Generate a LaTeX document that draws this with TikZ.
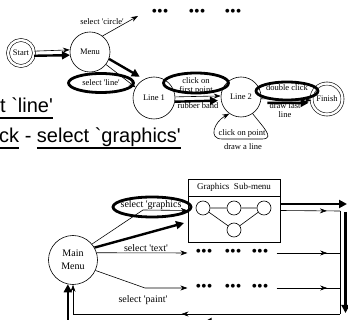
\documentclass[tikz,border=0pt]{standalone}
\usepackage{fontspec}
\setmainfont{Liberation Serif}[Ligatures=TeXOff]
\newfontfamily\slidefont{Liberation Sans}[Ligatures=TeXOff]
\usetikzlibrary{arrows.meta,decorations.markings,positioning,shapes.geometric}

% thick underline for the slide text
\newcommand{\slideul}[1]{\sbox0{#1}\rlap{\rule[-6.5pt]{\wd0}{2.8pt}}\usebox0}

\tikzset{%
	state/.style     = {draw, circle, line width=0.6pt, inner sep=0pt, align=center, font=\fontsize{8.5}{10}\selectfont},
	accept/.style    = {state, double, double distance=2.4pt},
	hilite/.style    = {draw, ellipse, line width=2.8pt, inner sep=0pt, font=\fontsize{8.5}{10}\selectfont},
	lbl/.style       = {inner sep=0pt, align=center, font=\fontsize{8.5}{9.5}\selectfont},
	menulbl/.style   = {inner sep=0pt, align=center, font=\fontsize{10}{12}\selectfont},
	dotrow/.style    = {inner sep=0pt, font=\fontsize{16}{16}\selectfont},
	slide/.style     = {inner sep=0pt, anchor=base west, font=\slidefont\fontsize{20}{24}\selectfont},
	arrow/.style     = {line width=0.6pt, -{Stealth[length=7pt,width=5pt]}},
	boldarrow/.style = {line width=2.4pt, -{Triangle[length=8pt,width=8pt]}},
	midarrow/.style  = {postaction={decorate, decoration={markings, mark=at position #1 with {\arrow{Stealth[length=7pt,width=5pt]}}}}},
	midbold/.style   = {postaction={decorate, decoration={markings, mark=at position #1 with {\arrow{Triangle[length=8pt,width=8pt]}}}}},
}

\begin{document}
\begin{tikzpicture}[x=1pt, y=-1pt]
	\useasboundingbox (0,0) rectangle (348,320);
	\clip (0,0) rectangle (348,320);

	% line tool dialogue
	\node[accept, minimum size=26pt] (start)  at (21,53)  {Start};
	\node[state,  minimum size=40pt] (menu)   at (90,52)  {Menu};
	\node[state,  minimum size=42pt] (line1)  at (154,98) {Line 1};
	\node[state,  minimum size=40pt] (line2)  at (241,97) {Line 2};
	\node[accept, minimum size=31pt] (finish) at (327,99) {Finish};

	\draw[arrow]     (start.8)   -- (menu.174);
	\draw[boldarrow] (start.-12) -- (menu.189);

	\coordinate (more) at (138,16);
	\draw[arrow] (menu.52) -- (more);
	\node[lbl] (selcircle) at (102,22) {select 'circle'};
	\node[dotrow] (top1) at (160,13) {•••};
	\node[dotrow] (top2) at (197,13) {•••};
	\node[dotrow] (top3) at (233,13) {•••};

	\draw[arrow] (menu.-38) -- (line1.150);
	\draw[boldarrow, shorten >=5pt] (menu.-20) -- (line1.118);
	\node[hilite, minimum width=65pt, minimum height=19pt] (selline) at (101,83) {select 'line'};

	\draw[arrow] (line1.3) -- (line2.177);
	\draw[boldarrow, shorten >=3pt] (line1.-10) -- (line2.190);
	\node[lbl] (clicktxt) at (196,86) {click on\\first point};
	\node[hilite, minimum width=65pt, minimum height=20pt] (clickring) at (196,83) {};
	\node[lbl] (rubber) at (198,106) {rubber band};

	\draw[arrow] (line2.-5) -- (finish.185);
	\draw[boldarrow, shorten <=7pt, shorten >=3pt] (line2.-17) -- (finish.194);
	\node[hilite, minimum width=62pt, minimum height=18pt] (dblring) at (287,91) {};
	\node[lbl] (dbltxt) at (287,88) {double click};
	\node[lbl] (lastline) at (285,110) {draw last\\line};

	% self loop on Line 2
	\draw[arrow] (line2.-55) .. controls (262,126) and (276,139) .. (262,139) -- (222,139)
		.. controls (208,139) and (214,122) .. (line2.-125);
	\node[lbl] (clickpt) at (242,133) {click on point};
	\node[lbl] (drawseg) at (243,147) {draw a line};

	% slide text
	\node[slide] (said) at (0,113)  {\slideul{t `line'}};
	\node[slide] (todo) at (-1,143) {\slideul{ck} - \slideul{select `graphics'}};

	% main menu and graphics sub-menu
	\node[state, minimum size=49pt, font=\fontsize{10}{13}\selectfont] (main) at (73,260) {Main\\Menu};
	\node[draw, line width=0.6pt, minimum width=92pt, minimum height=63pt] (submenu) at (234,210.5) {};
	\node[lbl, anchor=north, minimum width=92pt, minimum height=17pt, font=\fontsize{9}{10}\selectfont] (subhead) at (submenu.north) {Graphics\ \ Sub-menu};
	\draw[line width=0.6pt] (subhead.south west) -- (subhead.south east);
	\foreach \name/\x/\y in {g1/203/208, g2/234/208, g3/264/208, g4/234/230}
		\node[state, minimum size=14pt] (\name) at (\x,\y) {};
	\draw[line width=0.6pt] (g1) -- (g2) -- (g3) (g1) -- (g4) -- (g3);

	\coordinate (gfxbend) at (143,210);
	\draw[arrow] (main.40) -- (gfxbend) -- (submenu.west);
	\node[hilite, minimum width=78pt, minimum height=20pt] (gfxring) at (152,207) {};
	\node[menulbl] (selgfx) at (152,205) {select 'graphics'};
	\coordinate (gfxin) at (184,223);
	\draw[boldarrow] (main.30) -- (gfxin);

	% text and paint rows
	\foreach \name/\x in {1/204, 2/233, 3/260} {
		\node[dotrow] (t\name) at (\x,253) {•••};
		\node[dotrow] (p\name) at (\x,288) {•••};
	}
	\node[menulbl] (seltext) at (146,248) {select 'text'};
	\draw[arrow, shorten >=8pt] (main.17) -- (t1.west);
	\coordinate (pbend) at (145,288);
	\draw[arrow, shorten >=8pt] (main.-25) -- (pbend) -- (p1.west);
	\node[menulbl] (selpaint) at (143,300) {select 'paint'};

	% return bus back to the main menu
	\coordinate (gout) at (340,211);
	\coordinate (tout) at (340,253);
	\coordinate (pout) at (340,288);
	\coordinate (back) at (340,314);
	\draw[line width=0.6pt, midarrow=0.78] (submenu.east) -- (gout);
	\draw[line width=0.6pt, shorten <=8pt, midarrow=0.82] (t3.east) -- (tout);
	\draw[line width=0.6pt, shorten <=8pt, midarrow=0.82] (p3.east) -- (pout);
	\draw[line width=0.6pt] (gout) -- (back);
	\draw[arrow, midarrow=0.535] (back) -- (back -| main.south) -- (main.south);

	% highlighted way round
	\coordinate (gfxfar) at (347,204);
	\draw[boldarrow] ([yshift=6.5pt]submenu.east) -- (gfxfar);
	\coordinate (dropA) at (345.5,212);
	\coordinate (dropB) at (345.5,313);
	\draw[boldarrow] (dropA) -- (dropB);
	\coordinate (retA) at (345.5,322);
	\draw[boldarrow, midbold=0.45] (retA) -- (retA -| main.-102) -- (main.-102);
\end{tikzpicture}
\end{document}
